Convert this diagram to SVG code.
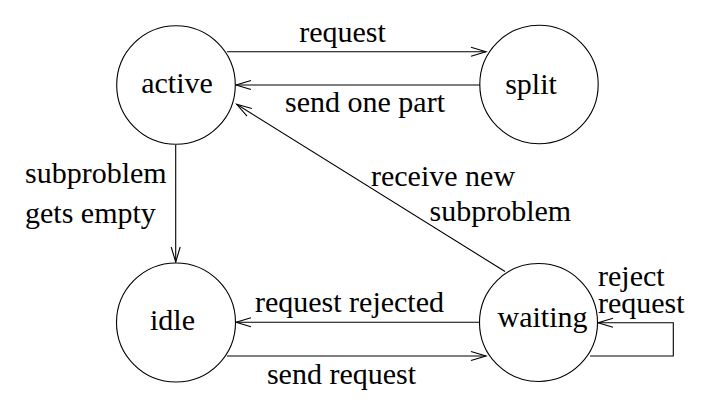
<svg xmlns="http://www.w3.org/2000/svg" width="708" height="407" viewBox="0 0 708 407">
<defs>
<style>
.node circle{fill:#fff;stroke:#000;stroke-width:1.1}
text{font-family:'Liberation Serif','Times New Roman',serif;font-size:30px;fill:#000}
.c{text-anchor:middle}
#connectors path{fill:none;stroke:#000;stroke-width:1.1}
</style>
<marker id="arr" markerUnits="userSpaceOnUse" markerWidth="20" markerHeight="14" refX="0" refY="0" viewBox="-17 -7 19 14" orient="auto" overflow="visible">
<path d="M-15,-4.5 L0,0 L-15,4.5" fill="none" stroke="#000" stroke-width="1.1"/>
</marker>
</defs>
<rect width="708" height="407" fill="#fff"/>
<g id="connectors">
<path d="M227,51.7 H486" marker-end="url(#arr)"/>
<path d="M480,85 H236" marker-end="url(#arr)"/>
<path d="M505,271.5 L236.7,104.3" marker-end="url(#arr)"/>
<path d="M175.7,145 V262" marker-end="url(#arr)"/>
<path d="M480,322.3 H236" marker-end="url(#arr)"/>
<path d="M227,356 H486" marker-end="url(#arr)"/>
<path d="M590,356 H673.3 V322.7 H598" marker-end="url(#arr)"/>
</g>
<g id="labels">
<text x="342.5" y="41.7" class="c">request</text>
<text x="365" y="111.7" class="c">send one part</text>
<text x="25" y="183.3">subproblem</text>
<text x="25" y="222.5">gets empty</text>
<text x="371" y="186">receive new</text>
<text x="429.5" y="220.5">subproblem</text>
<text x="349.5" y="312.3" class="c">request rejected</text>
<text x="341.5" y="384" class="c">send request</text>
<text x="598" y="285.5">reject</text>
<text x="598" y="313">request</text>
</g>
<g id="node-active" class="node"><circle cx="176" cy="85" r="59.3"/><text x="177" y="93.3" class="c">active</text></g>
<g id="node-split" class="node"><circle cx="539" cy="84.5" r="59.2"/><text x="531" y="94" class="c">split</text></g>
<g id="node-idle" class="node"><circle cx="176" cy="322.5" r="59.5"/><text x="172.5" y="330" class="c">idle</text></g>
<g id="node-waiting" class="node"><circle cx="538.5" cy="322.5" r="59"/><text x="542.5" y="326.7" class="c">waiting</text></g>
</svg>
